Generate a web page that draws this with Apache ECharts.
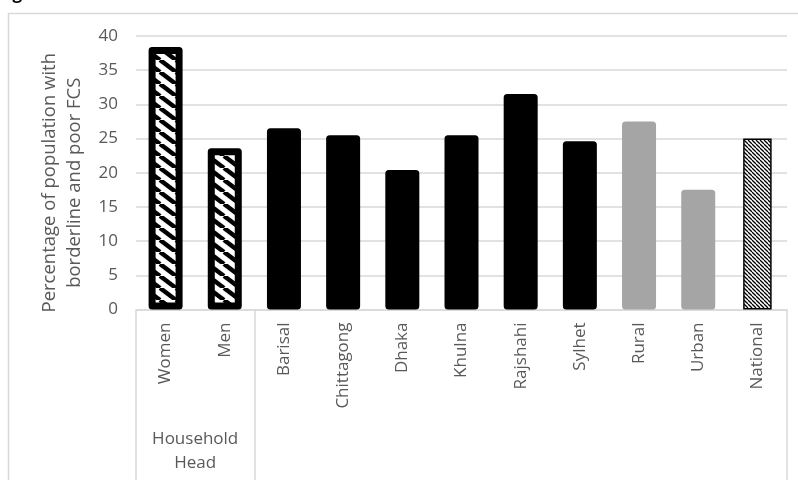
<!DOCTYPE html>
<html>
<head>
<meta charset="utf-8">
<script src="https://cdn.jsdelivr.net/npm/echarts@6/dist/echarts.min.js"></script>
<style>
  html, body { margin: 0; padding: 0; background: #fff; }
  #chart { width: 798px; height: 480px; }
</style>
</head>
<body>
<div id="chart"></div>
<script>
// Share of population with borderline and poor food consumption score (FCS)
const categories = ['Women', 'Men', 'Barisal', 'Chittagong', 'Dhaka', 'Khulna', 'Rajshahi', 'Sylhet', 'Rural', 'Urban', 'National'];
const values = [38.4, 23.6, 26.5, 25.5, 20.4, 25.5, 31.5, 24.6, 27.5, 17.5, 25.0];
const barKinds = ['head', 'head', 'division', 'division', 'division', 'division', 'division', 'division', 'area', 'area', 'national'];
const yMin = 0;
const yMax = 40;
const yStep = 5;
// Second level of the category axis: each group starts at a category index
const groupLabels = ['Household\nHead', ''];
const groupStarts = [0, 2];

const TEXT = '#595959';
const GRID = '#d9d9d9';
const FONT = 'Open Sans';

// Diagonal stripe tile ("\" direction) used as a repeating fill
function stripeTile(w, h, lineWidth, color) {
  const c = document.createElement('canvas');
  c.width = w; c.height = h;
  const ctx = c.getContext('2d');
  ctx.fillStyle = '#fff';
  ctx.fillRect(0, 0, w, h);
  ctx.strokeStyle = color;
  ctx.lineWidth = lineWidth;
  for (const dx of [-w, 0, w]) {
    ctx.beginPath();
    ctx.moveTo(dx, 0);
    ctx.lineTo(dx + w, h);
    ctx.stroke();
  }
  return c;
}

const kindStyles = {
  head: { color: { image: stripeTile(16, 12, 4.5, '#000'), repeat: 'repeat' }, borderColor: '#000', borderWidth: 7, borderJoin: 'round' },
  division: { color: '#000', borderColor: '#000', borderWidth: 7, borderJoin: 'round' },
  area: { color: '#a5a5a5', borderColor: '#a5a5a5', borderWidth: 7, borderJoin: 'round' },
  national: { color: { image: stripeTile(4, 4, 1.3, '#000'), repeat: 'repeat' }, borderColor: '#000', borderWidth: 1.5 }
};

// Thick-outlined bars and the thin-outlined national bar are laid out separately
const outlinedData = values.map((v, i) => barKinds[i] === 'national' ? '-' : { value: v, itemStyle: kindStyles[barKinds[i]] });
const nationalData = values.map((v, i) => barKinds[i] === 'national' ? { value: v, itemStyle: kindStyles.national } : '-');

// Group label sits at the middle of its span of categories
const groupEnds = groupStarts.slice(1).concat([categories.length]);
const groupCentres = {};
groupStarts.forEach((s, i) => { groupCentres[(s + groupEnds[i]) / 2] = groupLabels[i]; });

const chart = echarts.init(document.getElementById('chart'), null, { renderer: 'canvas' });
chart.setOption({
  animation: false,
  textStyle: { fontFamily: FONT },
  graphic: [{
    type: 'rect',
    silent: true,
    z: -10,
    shape: { x: 8.5, y: 13.5, width: 900, height: 600 },
    style: { fill: 'none', stroke: GRID, lineWidth: 1.5 }
  }, {
    type: 'text',
    silent: true,
    x: -2,
    y: -14,
    style: { text: 'Figure', font: 'bold 17px "Open Sans"', fill: '#000', textVerticalAlign: 'top' }
  }],
  grid: { left: 136, right: 11, top: 36, bottom: 170.5, containLabel: false },
  xAxis: [{
    type: 'category',
    data: categories,
    axisLine: { lineStyle: { color: GRID, width: 1.5 } },
    axisTick: {
      show: true,
      interval: (idx) => groupStarts.includes(idx),
      length: 175,
      lineStyle: { color: GRID, width: 1.5 }
    },
    axisLabel: { interval: 0, rotate: 90, fontSize: 17, color: TEXT, margin: 13, fontFamily: FONT },
    splitLine: { show: false }
  }, {
    type: 'value',
    position: 'bottom',
    min: 0,
    max: categories.length,
    interval: 1,
    axisLine: { show: false },
    axisTick: { show: false },
    splitLine: { show: false },
    axisLabel: {
      fontSize: 17,
      color: TEXT,
      lineHeight: 24,
      margin: 118,
      fontFamily: FONT,
      formatter: (v) => groupCentres[v] || ''
    }
  }, {
    type: 'category',
    data: categories,
    show: false
  }],
  yAxis: {
    type: 'value',
    min: yMin,
    max: yMax,
    interval: yStep,
    name: 'Percentage of population with\nborderline and poor FCS',
    nameLocation: 'middle',
    nameGap: 45.5,
    nameTextStyle: { fontSize: 18.5, color: TEXT, lineHeight: 25.5, fontFamily: FONT, padding: [0, 20, 0, 0] },
    axisLine: { show: false },
    axisTick: { show: false },
    axisLabel: { fontSize: 17, color: TEXT, margin: 18, fontFamily: FONT },
    splitLine: { lineStyle: { color: GRID, width: 1.5 } }
  },
  series: [{
    type: 'bar',
    xAxisIndex: 0,
    data: outlinedData,
    barWidth: 34
  }, {
    type: 'bar',
    xAxisIndex: 2,
    data: nationalData,
    barWidth: 28.5
  }]
});
</script>
</body>
</html>
